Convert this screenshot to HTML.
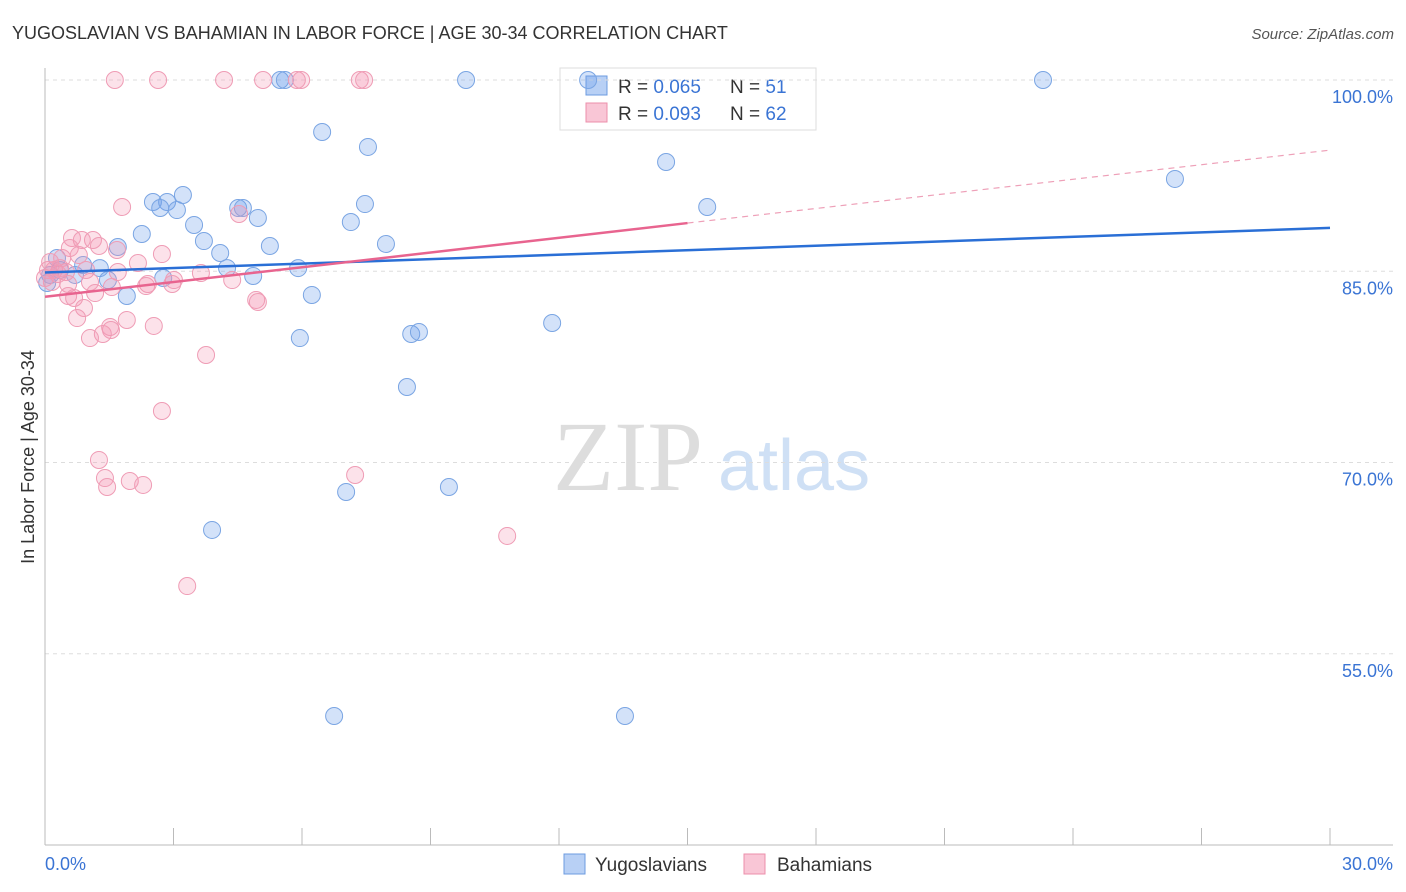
<!DOCTYPE html>
<html><head><meta charset="utf-8"><style>
body{margin:0;background:#fff;font-family:"Liberation Sans",sans-serif;}
#wrap{position:relative;width:1406px;height:892px;overflow:hidden;}
</style></head><body>
<div id="wrap">
<svg id="svg" width="1406" height="892" xmlns="http://www.w3.org/2000/svg">
<text x="12" y="39" font-size="18" fill="#333">YUGOSLAVIAN VS BAHAMIAN IN LABOR FORCE | AGE 30-34 CORRELATION CHART</text>
<text x="1394" y="39" font-size="15" fill="#555" text-anchor="end" font-style="italic">Source: ZipAtlas.com</text>
<text x="553" y="490" font-size="100" fill="#ddd" font-family="Liberation Serif,serif">ZIP</text>
<text x="718" y="490" font-size="72" fill="#cfe0f5">atlas</text>
<text transform="translate(34,457) rotate(-90)" font-size="18" fill="#333" text-anchor="middle">In Labor Force | Age 30-34</text>
<g>
<rect x="560" y="68" width="256" height="62" fill="#fff" stroke="#ddd"/>
<rect x="586" y="76" width="21" height="19" fill="#b8d0f5" stroke="#6c9be0"/>
<rect x="586" y="103" width="21" height="19" fill="#f9c6d6" stroke="#ec8fab"/>
<text x="618" y="93" font-size="19" fill="#333">R = <tspan fill="#3a74d4">0.065</tspan></text>
<text x="730" y="93" font-size="19" fill="#333">N = <tspan fill="#3a74d4"> 51</tspan></text>
<text x="618" y="120" font-size="19" fill="#333">R = <tspan fill="#3a74d4">0.093</tspan></text>
<text x="730" y="120" font-size="19" fill="#333">N = <tspan fill="#3a74d4"> 62</tspan></text>
</g>
<g id="grid"></g><g id="pts"></g><g id="lines"></g>
<g>
<rect x="564" y="854" width="21" height="20" fill="#b8d0f5" stroke="#6c9be0"/>
<text x="595" y="871" font-size="19" fill="#333">Yugoslavians</text>
<rect x="744" y="854" width="21" height="20" fill="#f9c6d6" stroke="#ec8fab"/>
<text x="777" y="871" font-size="19" fill="#333">Bahamians</text>
</g>
</svg>
</div>
<script>
const xTicks=[0,3,6,9,12,15,18,21,24,27,30];
const yTicks=[100,85,70,55];
const yTickLabels=["100.0%","85.0%","70.0%","55.0%"];
const xLabels=["0.0%","30.0%"];
const blueX=[12.68,5.49,5.60,9.83,23.30,6.47,7.54,14.50,26.38,3.22,2.52,2.85,2.69,3.08,4.51,4.62,4.97,7.47,7.14,15.46,3.48,2.26,3.71,1.70,5.25,7.96,4.09,0.28,0.89,1.28,4.25,5.91,0.35,0.70,1.47,4.86,0.05,2.76,1.91,6.23,11.84,5.95,8.55,8.73,8.45,7.03,9.43,3.90,6.75,13.54,0.12];
const blueY=[100,100,100,100,100,95.92,94.75,93.57,92.24,90.98,90.43,90.43,89.96,89.80,89.96,89.96,89.18,90.27,88.86,90.04,88.63,87.92,87.37,86.90,86.98,87.14,86.43,86.04,85.49,85.25,85.25,85.25,85.10,84.71,84.31,84.63,84.08,84.47,83.06,83.14,80.94,79.76,80.08,80.24,75.92,67.69,68.08,64.71,50.12,50.12,84.71];
const pinkX=[1.63,2.64,4.18,5.09,5.88,5.98,7.35,7.45,1.80,4.53,0.63,1.12,0.86,1.26,1.68,2.73,0.58,0.79,2.17,0.40,0.07,0.21,0.49,0.30,0,0.16,0.54,1.05,1.70,2.40,3.01,2.97,4.37,3.64,2.36,1.17,0.54,0.68,1.56,0.91,0.75,1.91,1.52,1.54,1.35,1.05,2.54,4.93,4.97,3.76,2.73,1.26,1.40,1.98,1.45,2.29,7.24,10.79,3.32,0.35,0.96,0.12];
const pinkY=[100,100,100,100,100,100,100,100,90.04,89.49,87.61,87.45,87.45,86.98,86.67,86.35,86.82,86.27,85.65,86.04,85.10,85.10,84.94,84.78,84.47,84.16,84.00,84.16,84.94,84.00,84.31,84.00,84.31,84.86,83.84,83.29,83.06,82.90,83.76,82.12,81.33,81.18,80.63,80.39,80.08,79.76,80.71,82.75,82.59,78.43,74.04,70.20,68.78,68.55,68.08,68.24,69.02,64.24,60.31,85.25,85.10,85.73];
const blueTrend=[[0,84.9],[30,88.4]];
const pinkTrend=[[0,83.0],[15,88.78]];
const pinkTrendDash=[[15,88.78],[30,94.5]];
const NS="http://www.w3.org/2000/svg";
const sx=v=>45+v*(1285/30);
const sy=v=>80+(100-v)*12.75;
function mk(tag,attrs,parent){const e=document.createElementNS(NS,tag);for(const k in attrs)e.setAttribute(k,attrs[k]);parent.appendChild(e);return e;}
const grid=document.getElementById('grid'),pts=document.getElementById('pts'),lines=document.getElementById('lines'),svg=document.getElementById('svg');
yTicks.forEach((t,i)=>{
 const l=mk('line',{x1:45,x2:1393,y1:sy(t),y2:sy(t),stroke:'#ddd','stroke-dasharray':'4,4'},grid);
 
 
 const tx=mk('text',{x:1393,y:sy(t)+23,'font-size':18,fill:'#3a74d4','text-anchor':'end'},svg);
 tx.textContent=yTickLabels[i];
 
 
});
const ax=mk('line',{x1:45,x2:45,y1:68,y2:845,stroke:'#bbb'},grid);


const bx=mk('line',{x1:45,x2:1393,y1:845,y2:845,stroke:'#bbb'},grid);


xTicks.forEach(t=>{
 const l=mk('line',{x1:sx(t),x2:sx(t),y1:828,y2:845,stroke:'#bbb'},grid);
 
 
});
const xl0=mk('text',{x:45,y:870,'font-size':18,fill:'#3a74d4'},svg);xl0.textContent=xLabels[0];


const xl1=mk('text',{x:1393,y:870,'font-size':18,fill:'#3a74d4','text-anchor':'end'},svg);xl1.textContent=xLabels[1];


function dots(X,Y,fill,stroke,name){X.forEach((x,i)=>{
 const c=mk('circle',{cx:sx(x),cy:sy(Y[i]),r:8.5,fill:fill,stroke:stroke,'stroke-width':1},pts);
 
 
});}
dots(blueX,blueY,'rgba(110,160,235,0.3)','#7aa5e3','yugoslavian-point');
dots(pinkX,pinkY,'rgba(245,150,180,0.28)','#ef9cb5','bahamian-point');
function ln(p,color,w,dash,name){
 const a={x1:sx(p[0][0]),y1:sy(p[0][1]),x2:sx(p[1][0]),y2:sy(p[1][1]),stroke:color,'stroke-width':w};
 if(dash)a['stroke-dasharray']=dash;
 const l=mk('line',a,lines);
 
 
}
ln(blueTrend,'#2a6fd6',2.5,null,'yugoslavian-trend-line');
ln(pinkTrend,'#e8648f',2.5,null,'bahamian-trend-line');
ln(pinkTrendDash,'#eea0b8',1.2,'6,5','bahamian-trend-extension');
</script>
</body></html>
